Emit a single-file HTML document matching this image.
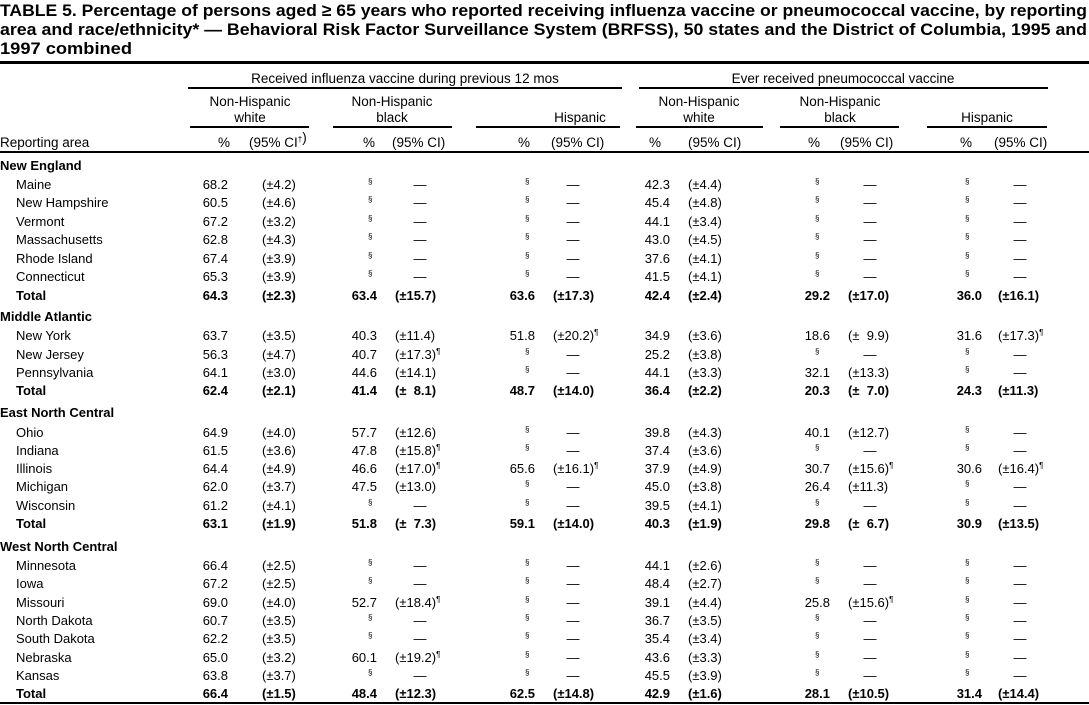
<!DOCTYPE html>
<html><head><meta charset="utf-8"><style>
html,body{margin:0;padding:0;background:#fff;width:1089px;height:705px;overflow:hidden}
svg{display:block;font-family:"Liberation Sans",Arial,sans-serif}
</style></head><body>
<svg id="s" width="1089" height="705" xmlns="http://www.w3.org/2000/svg">
<g font-weight="bold" font-size="17">
<text x="0" y="16" textLength="1087" lengthAdjust="spacingAndGlyphs">TABLE 5. Percentage of persons aged ≥ 65 years who reported receiving influenza vaccine or pneumococcal vaccine, by reporting</text>
<text x="0" y="35" textLength="1087" lengthAdjust="spacingAndGlyphs">area and race/ethnicity* — Behavioral Risk Factor Surveillance System (BRFSS), 50 states and the District of Columbia, 1995 and</text>
<text x="0" y="54" textLength="132" lengthAdjust="spacingAndGlyphs">1997 combined</text>
</g>
<rect x="0" y="61" width="1089" height="3" fill="#000"/>
<rect x="188" y="87" width="434" height="2" fill="#000"/>
<rect x="639" y="87" width="409" height="2" fill="#000"/>
<rect x="190" y="126" width="119" height="2" fill="#000"/>
<rect x="333" y="126" width="119" height="2" fill="#000"/>
<rect x="476" y="126" width="144" height="2" fill="#000"/>
<rect x="636" y="126" width="127" height="2" fill="#000"/>
<rect x="780" y="126" width="119" height="2" fill="#000"/>
<rect x="927" y="126" width="120" height="2" fill="#000"/>
<rect x="0" y="151" width="1089" height="2" fill="#000"/>
<rect x="0" y="702" width="1089" height="2" fill="#000"/>
<g font-size="13.5" text-anchor="middle">
<text x="405" y="83">Received influenza vaccine during previous 12 mos</text>
<text x="843" y="83">Ever received pneumococcal vaccine</text>
<text x="250" y="106">Non-Hispanic</text><text x="250" y="122">white</text>
<text x="392" y="106">Non-Hispanic</text><text x="392" y="122">black</text>
<text x="580" y="122">Hispanic</text>
<text x="699" y="106">Non-Hispanic</text><text x="699" y="122">white</text>
<text x="840" y="106">Non-Hispanic</text><text x="840" y="122">black</text>
<text x="987" y="122">Hispanic</text>
</g>
<g font-size="13.5">
<text x="0" y="147">Reporting area</text>
<text x="218" y="147">%</text><text x="249" y="147">(95% CI<tspan font-size="8" dy="-5">†</tspan>)</text>
<text x="363" y="147">%</text><text x="392" y="147">(95% CI)</text>
<text x="518" y="147">%</text><text x="551" y="147">(95% CI)</text>
<text x="649" y="147">%</text><text x="688" y="147">(95% CI)</text>
<text x="808" y="147">%</text><text x="840" y="147">(95% CI)</text>
<text x="960" y="147">%</text><text x="994" y="147">(95% CI)</text>
</g>
<g id="d" font-size="13"></g>
</svg>
<script>
var R=[
["New England","h",165],
["Maine","s",184,"68.2","(±4.2)","§","","§","","42.3","(±4.4)","§","","§",""],
["New Hampshire","s",202,"60.5","(±4.6)","§","","§","","45.4","(±4.8)","§","","§",""],
["Vermont","s",221,"67.2","(±3.2)","§","","§","","44.1","(±3.4)","§","","§",""],
["Massachusetts","s",239,"62.8","(±4.3)","§","","§","","43.0","(±4.5)","§","","§",""],
["Rhode Island","s",258,"67.4","(±3.9)","§","","§","","37.6","(±4.1)","§","","§",""],
["Connecticut","s",276,"65.3","(±3.9)","§","","§","","41.5","(±4.1)","§","","§",""],
["Total","t",295,"64.3","(±2.3)","63.4","(±15.7)","63.6","(±17.3)","42.4","(±2.4)","29.2","(±17.0)","36.0","(±16.1)"],
["Middle Atlantic","h",316],
["New York","s",335,"63.7","(±3.5)","40.3","(±11.4)","51.8","(±20.2)¶","34.9","(±3.6)","18.6","(±  9.9)","31.6","(±17.3)¶"],
["New Jersey","s",354,"56.3","(±4.7)","40.7","(±17.3)¶","§","","25.2","(±3.8)","§","","§",""],
["Pennsylvania","s",372,"64.1","(±3.0)","44.6","(±14.1)","§","","44.1","(±3.3)","32.1","(±13.3)","§",""],
["Total","t",390,"62.4","(±2.1)","41.4","(±  8.1)","48.7","(±14.0)","36.4","(±2.2)","20.3","(±  7.0)","24.3","(±11.3)"],
["East North Central","h",412],
["Ohio","s",432,"64.9","(±4.0)","57.7","(±12.6)","§","","39.8","(±4.3)","40.1","(±12.7)","§",""],
["Indiana","s",450,"61.5","(±3.6)","47.8","(±15.8)¶","§","","37.4","(±3.6)","§","","§",""],
["Illinois","s",468,"64.4","(±4.9)","46.6","(±17.0)¶","65.6","(±16.1)¶","37.9","(±4.9)","30.7","(±15.6)¶","30.6","(±16.4)¶"],
["Michigan","s",486,"62.0","(±3.7)","47.5","(±13.0)","§","","45.0","(±3.8)","26.4","(±11.3)","§",""],
["Wisconsin","s",505,"61.2","(±4.1)","§","","§","","39.5","(±4.1)","§","","§",""],
["Total","t",523,"63.1","(±1.9)","51.8","(±  7.3)","59.1","(±14.0)","40.3","(±1.9)","29.8","(±  6.7)","30.9","(±13.5)"],
["West North Central","h",546],
["Minnesota","s",565,"66.4","(±2.5)","§","","§","","44.1","(±2.6)","§","","§",""],
["Iowa","s",583,"67.2","(±2.5)","§","","§","","48.4","(±2.7)","§","","§",""],
["Missouri","s",602,"69.0","(±4.0)","52.7","(±18.4)¶","§","","39.1","(±4.4)","25.8","(±15.6)¶","§",""],
["North Dakota","s",620,"60.7","(±3.5)","§","","§","","36.7","(±3.5)","§","","§",""],
["South Dakota","s",638,"62.2","(±3.5)","§","","§","","35.4","(±3.4)","§","","§",""],
["Nebraska","s",657,"65.0","(±3.2)","60.1","(±19.2)¶","§","","43.6","(±3.3)","§","","§",""],
["Kansas","s",675,"63.8","(±3.7)","§","","§","","45.5","(±3.9)","§","","§",""],
["Total","t",693,"66.4","(±1.5)","48.4","(±12.3)","62.5","(±14.8)","42.9","(±1.6)","28.1","(±10.5)","31.4","(±14.4)"]
];
var PR=[228,377,535,670,830,982],CL=[262,395,553,688,848,998],SX=[0,368,525,0,815,965],DX=[0,420,573,0,870,1020];
var h="";
function esc(s){return s.replace(/ /g,"&#160;").replace("¶",'<tspan font-size="8" dy="-5">¶</tspan>');}
R.forEach(function(r){
 var y=r[2]+5,b=(r[1]!="s")?' font-weight="bold"':'';
 h+='<text x="'+(r[1]=="h"?0:16)+'" y="'+y+'"'+b+'>'+r[0]+'</text>';
 if(r[1]=="h")return;
 for(var i=0;i<6;i++){
  var p=r[3+2*i],c=r[4+2*i];
  if(p=="§"){h+='<text x="'+SX[i]+'" y="'+(y-5)+'" font-size="8">§</text><text x="'+DX[i]+'" y="'+y+'" text-anchor="middle">—</text>';}
  else{h+='<text x="'+PR[i]+'" y="'+y+'" text-anchor="end"'+b+'>'+p+'</text><text x="'+CL[i]+'" y="'+y+'"'+b+'>'+esc(c)+'</text>';}
 }
});
document.getElementById("d").innerHTML=h;
</script>
</body></html>
